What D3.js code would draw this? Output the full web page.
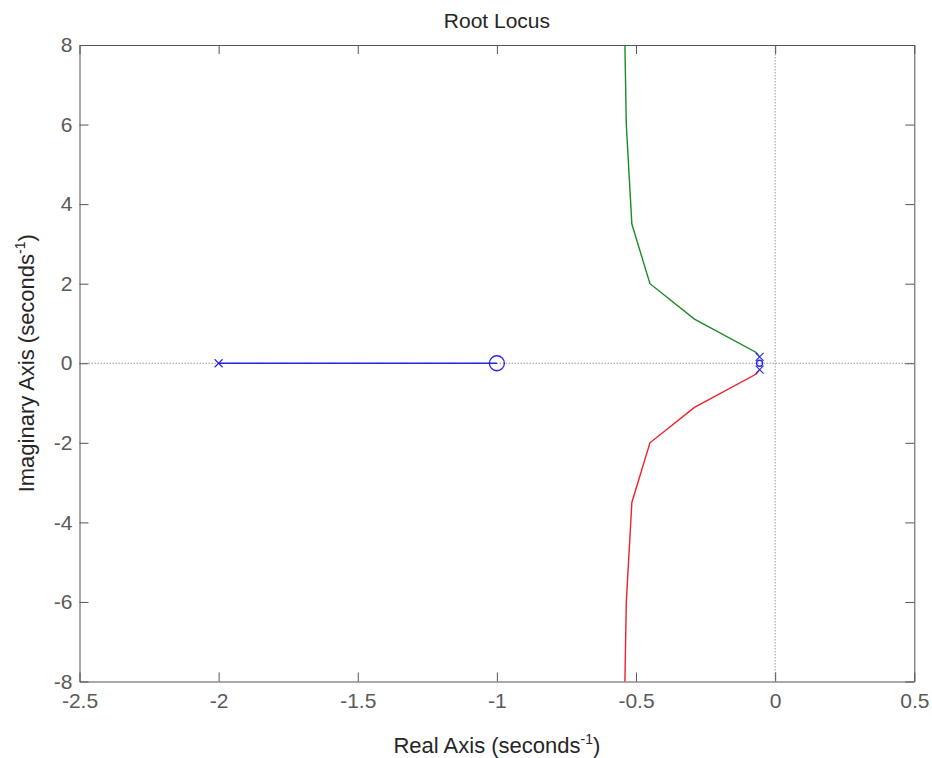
<!DOCTYPE html>
<html lang="en">
<head>
    <meta charset="UTF-8">
    <title>Root Locus</title>
    <script src="https://d3js.org/d3.v7.min.js"></script>
    <style>
        body {
            margin: 0;
            background-color: #fff;
            overflow: hidden;
        }

        text {
            font-family: "Liberation Sans", Arial, sans-serif;
        }

        .tick-label { fill: #5a5a5a; font-size: 21px; }
        .axis-title { fill: #262626; font-size: 22px; }
        .plot-title { fill: #262626; font-size: 21px; }
    </style>
</head>
<body>
    <div id="chart"></div>

    <script>
        // axis ticks
        const realTicks = [-2.5, -2, -1.5, -1, -0.5, 0, 0.5];
        const imagTicks = [-8, -6, -4, -2, 0, 2, 4, 6, 8];

        // branch going up (green) and its mirror going down (red)
        const upperRe = [-0.056, -0.068, -0.29, -0.45, -0.515, -0.535, -0.54];
        const upperIm = [0.16, 0.27, 1.11, 2.0, 3.5, 6.0, 8.0];
        const lowerRe = [-0.056, -0.068, -0.29, -0.45, -0.515, -0.535, -0.54];
        const lowerIm = [-0.16, -0.27, -1.11, -2.0, -3.5, -6.0, -8.0];

        // real axis branch (blue), pole at -2 to zero at -1
        const realBranchRe = [-2, -1];
        const realBranchIm = [0, 0];

        // poles and zeros
        const poleRe = [-2, -0.056, -0.056];
        const poleIm = [0, 0.16, -0.16];
        const zeroRe = [-1, -0.056];
        const zeroIm = [0, 0];
        const zeroSize = [7.5, 3];

        const COLORS = {
            blue: '#2626e6',
            green: '#1b8a24',
            red: '#f02028',
            box: '#555',
            zeroLine: '#9a9a9a'
        };

        const width = 932;
        const height = 758;
        const plot = { left: 79.5, right: 914.3, top: 45, bottom: 681.5 };
        const tickLen = 9;

        const svg = d3.select('#chart').append('svg')
            .attr('width', width)
            .attr('height', height);

        const x = d3.scaleLinear().domain([-2.5, 0.5]).range([plot.left, plot.right]);
        const y = d3.scaleLinear().domain([-8, 8]).range([plot.bottom, plot.top]);

        // dotted zero lines
        svg.append('line')
            .attr('x1', plot.left).attr('x2', plot.right)
            .attr('y1', y(0)).attr('y2', y(0))
            .attr('stroke', COLORS.zeroLine)
            .attr('stroke-width', 1)
            .attr('stroke-dasharray', '1.5,1.5');
        svg.append('line')
            .attr('x1', x(0)).attr('x2', x(0))
            .attr('y1', plot.top).attr('y2', plot.bottom)
            .attr('stroke', COLORS.zeroLine)
            .attr('stroke-width', 1)
            .attr('stroke-dasharray', '1.5,1.5');

        // matlab style labels use a plain hyphen
        const fmt = d => String(d);

        // axes with inward ticks on all four sides
        const bottomAxis = d3.axisBottom(x).tickValues(realTicks).tickSizeInner(-tickLen).tickSizeOuter(0).tickFormat(fmt);
        const topAxis = d3.axisTop(x).tickValues(realTicks).tickSizeInner(-tickLen).tickSizeOuter(0).tickFormat('');
        const leftAxis = d3.axisLeft(y).tickValues(imagTicks).tickSizeInner(-tickLen).tickSizeOuter(0).tickFormat(fmt);
        const rightAxis = d3.axisRight(y).tickValues(imagTicks).tickSizeInner(-tickLen).tickSizeOuter(0).tickFormat('');

        function styleAxis(g) {
            g.select('.domain').attr('stroke', COLORS.box).attr('stroke-width', 1);
            g.selectAll('.tick line').attr('stroke', COLORS.box).attr('stroke-width', 1);
            g.selectAll('.tick text')
                .attr('class', 'tick-label')
                .attr('font-family', null)
                .attr('font-size', null);
        }

        svg.append('g').attr('transform', `translate(0,${plot.bottom})`).call(bottomAxis).call(styleAxis)
            .selectAll('.tick text').attr('y', 12).attr('dy', '0.71em');
        svg.append('g').attr('transform', `translate(0,${plot.top})`).call(topAxis).call(styleAxis);
        svg.append('g').attr('transform', `translate(${plot.left},0)`).call(leftAxis).call(styleAxis)
            .selectAll('.tick text').attr('x', -7);
        svg.append('g').attr('transform', `translate(${plot.right},0)`).call(rightAxis).call(styleAxis);

        // loci
        const line = d3.line().x(d => x(d[0])).y(d => y(d[1]));
        const branches = [
            { re: realBranchRe, im: realBranchIm, color: COLORS.blue },
            { re: upperRe, im: upperIm, color: COLORS.green },
            { re: lowerRe, im: lowerIm, color: COLORS.red }
        ];

        svg.selectAll('.branch')
            .data(branches)
            .join('path')
            .attr('class', 'branch')
            .attr('fill', 'none')
            .attr('stroke', d => d.color)
            .attr('stroke-width', 1.4)
            .attr('d', d => line(d.re.map((r, i) => [r, d.im[i]])));

        // pole markers (x)
        const poles = poleRe.map((r, i) => ({ re: r, im: poleIm[i] }));
        svg.selectAll('.pole')
            .data(poles)
            .join('path')
            .attr('class', 'pole')
            .attr('fill', 'none')
            .attr('stroke', COLORS.blue)
            .attr('stroke-width', 1.1)
            .attr('d', d => {
                const cx = x(d.re), cy = y(d.im), s = 4;
                return `M${cx - s},${cy - s}L${cx + s},${cy + s}M${cx - s},${cy + s}L${cx + s},${cy - s}`;
            });

        // zero markers (o)
        const zeros = zeroRe.map((r, i) => ({ re: r, im: zeroIm[i], r: zeroSize[i] }));
        svg.selectAll('.zero')
            .data(zeros)
            .join('circle')
            .attr('class', 'zero')
            .attr('fill', 'none')
            .attr('stroke', COLORS.blue)
            .attr('stroke-width', 1.3)
            .attr('cx', d => x(d.re))
            .attr('cy', d => y(d.im))
            .attr('r', d => d.r);

        // titles
        const midX = (plot.left + plot.right) / 2;
        svg.append('text')
            .attr('class', 'plot-title')
            .attr('x', midX).attr('y', 28)
            .attr('text-anchor', 'middle')
            .text('Root Locus');

        const xLabel = svg.append('text')
            .attr('class', 'axis-title')
            .attr('x', midX).attr('y', 753)
            .attr('text-anchor', 'middle');
        xLabel.append('tspan').text('Real Axis (seconds');
        xLabel.append('tspan').attr('dy', -9).attr('font-size', 14).text('-1');
        xLabel.append('tspan').attr('dy', 9).text(')');

        const yLabel = svg.append('text')
            .attr('class', 'axis-title')
            .attr('transform', `translate(34,${(plot.top + plot.bottom) / 2}) rotate(-90)`)
            .attr('text-anchor', 'middle');
        yLabel.append('tspan').text('Imaginary Axis (seconds');
        yLabel.append('tspan').attr('dy', -9).attr('font-size', 14).text('-1');
        yLabel.append('tspan').attr('dy', 9).text(')');
    </script>
</body>
</html>
